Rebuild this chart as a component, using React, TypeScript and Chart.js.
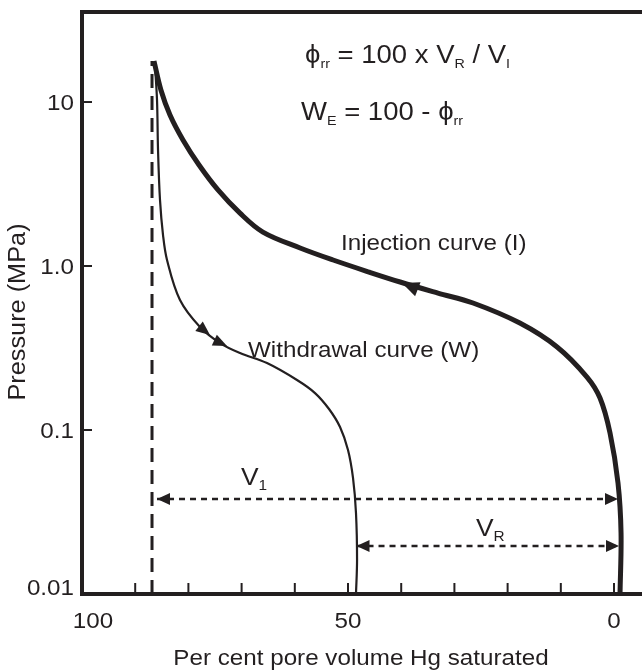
import React, { useEffect, useRef } from "react";
import { Chart, registerables } from "chart.js";

Chart.register(...registerables);

// Mercury injection curve: Hg saturation (% pore volume) against pressure (MPa)
const injectionSaturation = [86.47, 85.15, 83.46, 81.02, 78.0, 74.44, 70.3, 66.0, 59.0, 52.8, 46.05, 40.2, 33.1, 26.5, 17.7, 10.7, 5.08, 2.63, 0.75, -0.75, -1.32, -1.13];
const injectionPressure = [17.8, 11.8, 8.33, 5.87, 4.13, 2.91, 2.1, 1.61, 1.288, 1.088, 0.919, 0.799, 0.684, 0.595, 0.449, 0.321, 0.2104, 0.1567, 0.0959, 0.0475, 0.0236, 0.01];

// Withdrawal curve
const withdrawalSaturation = [86.3, 85.9, 85.71, 85.34, 84.77, 84.02, 81.58, 77.82, 74.06, 70.3, 65.23, 59.59, 56.2, 53.57, 51.5, 50.0, 49.06, 48.5, 48.3, 48.5];
const withdrawalPressure = [17.0, 10.28, 5.1, 2.53, 1.545, 1.088, 0.62, 0.4246, 0.339, 0.2947, 0.256, 0.2018, 0.168, 0.1343, 0.1043, 0.0755, 0.051, 0.0312, 0.0161, 0.01];

// Maximum injected saturation (dashed vertical) and the V_I / V_R spans
const maxSaturation = 86.84;
const maxPressure = 17.8;
const viSpan = [85.9, -0.75];
const viPressure = 0.03795;
const vrSpan = [48.4, -0.94];
const vrPressure = 0.01962;

// Direction arrows along the curves: [tipSat, tipP, tailSat, tailP]
const injectionArrows = [[39.85, 0.788, 36.47, 0.714]];
const withdrawalArrows = [
  [75.94, 0.3796, 78.3, 0.4367],
  [72.74, 0.3252, 75.19, 0.3538],
];

// Axis ranges and ticks
const xMin = -5.26;
const xMax = 100;
const yMin = 0.01;
const yMax = 35.4;
const xMinorTicks = [90, 80, 70, 60, 50, 40, 30, 20, 10, 0];
const xTickValues = [100, 50, 0];
const xTickLabels = ["100", "50", "0"];
const yTickValues = [10, 1, 0.1, 0.01];
const yTickLabels = ["10", "1.0", "0.1", "0.01"];

const INK = "#231f20";
const FONT = '"Liberation Sans", Arial, Helvetica, sans-serif';
const SX = 1.1;

function pts(xs: number[], ys: number[]) {
  return xs.map((x, i) => ({ x, y: ys[i] }));
}

function drawText(
  ctx: CanvasRenderingContext2D,
  s: string,
  x: number,
  y: number,
  size: number,
  align: "left" | "center" | "right" = "left"
) {
  ctx.save();
  ctx.font = `${size}px ${FONT}`;
  const w = ctx.measureText(s).width * SX;
  let x0 = x;
  if (align === "center") x0 = x - w / 2;
  else if (align === "right") x0 = x - w;
  ctx.translate(x0, y);
  ctx.scale(SX, 1);
  ctx.textAlign = "left";
  ctx.textBaseline = "alphabetic";
  ctx.fillStyle = INK;
  ctx.fillText(s, 0, 0);
  ctx.restore();
  return w;
}

// Sequence of [text, isSubscript] pieces drawn left to right
function drawRich(
  ctx: CanvasRenderingContext2D,
  parts: [string, boolean][],
  x: number,
  y: number,
  size: number,
  subSize: number
) {
  let cx = x;
  for (const [s, sub] of parts) {
    cx += drawText(ctx, s, cx, sub ? y + 5 : y, sub ? subSize : size);
  }
}

function arrowHead(
  ctx: CanvasRenderingContext2D,
  tx: number,
  ty: number,
  fx: number,
  fy: number,
  len: number,
  half: number
) {
  const dx = tx - fx;
  const dy = ty - fy;
  const d = Math.hypot(dx, dy) || 1;
  const ux = dx / d;
  const uy = dy / d;
  const bx = tx - ux * len;
  const by = ty - uy * len;
  ctx.beginPath();
  ctx.moveTo(tx, ty);
  ctx.lineTo(bx - uy * half, by + ux * half);
  ctx.lineTo(bx + uy * half, by - ux * half);
  ctx.closePath();
  ctx.fillStyle = INK;
  ctx.fill();
}

const overlay = {
  id: "overlay",
  afterDatasetsDraw(chart: any) {
    const { ctx, chartArea } = chart;
    const xs = chart.scales.x;
    const ys = chart.scales.y;
    const { left, right, top, bottom } = chartArea;
    const px = (v: number) => xs.getPixelForValue(v);
    const py = (v: number) => ys.getPixelForValue(v);

    ctx.save();
    ctx.strokeStyle = INK;
    ctx.lineCap = "butt";

    // frame: left, top and bottom
    ctx.lineWidth = 4;
    ctx.beginPath();
    ctx.moveTo(right, top);
    ctx.lineTo(left, top);
    ctx.lineTo(left, bottom);
    ctx.lineTo(right, bottom);
    ctx.stroke();

    // inward ticks
    ctx.lineWidth = 2;
    for (const v of yTickValues.slice(0, 3)) {
      ctx.beginPath();
      ctx.moveTo(left, py(v));
      ctx.lineTo(left + 10, py(v));
      ctx.stroke();
    }
    for (const v of xMinorTicks) {
      ctx.beginPath();
      ctx.moveTo(px(v), bottom);
      ctx.lineTo(px(v), bottom - 11);
      ctx.stroke();
    }

    // tick labels
    yTickValues.forEach((v, i) => {
      const yy = i === 3 ? py(v) - 7 : py(v);
      drawText(ctx, yTickLabels[i], left - 8, yy + 8, 22, "right");
    });
    xTickValues.forEach((v, i) => {
      const xx = v === 100 ? px(v) + 11 : px(v);
      drawText(ctx, xTickLabels[i], xx, bottom + 34, 22, "center");
    });

    // axis titles
    drawText(ctx, "Per cent pore volume Hg saturated", 361, 665, 22, "center");
    ctx.save();
    ctx.translate(25, 312);
    ctx.rotate(-Math.PI / 2);
    drawText(ctx, "Pressure (MPa)", 0, 0, 23, "center");
    ctx.restore();

    // direction arrows on the curves
    for (const [ts, tp, fs, fp] of injectionArrows) {
      arrowHead(ctx, px(ts), py(tp), px(fs), py(fp), 17, 7.5);
    }
    for (const [ts, tp, fs, fp] of withdrawalArrows) {
      arrowHead(ctx, px(ts), py(tp), px(fs), py(fp), 14, 6);
    }

    // span arrows
    const viY = py(viPressure);
    arrowHead(ctx, px(viSpan[0]), viY, px(viSpan[1]), viY, 13, 6);
    arrowHead(ctx, px(viSpan[1]), viY, px(viSpan[0]), viY, 13, 6);
    const vrY = py(vrPressure);
    arrowHead(ctx, px(vrSpan[0]), vrY, px(vrSpan[1]), vrY, 13, 6);
    arrowHead(ctx, px(vrSpan[1]), vrY, px(vrSpan[0]), vrY, 13, 6);

    // span labels
    drawRich(ctx, [["V", false], ["1", true]], 241, 485, 24, 14);
    drawRich(ctx, [["V", false], ["R", true]], 476, 536, 24, 14);

    // curve labels
    drawText(ctx, "Injection curve (I)", 341, 250, 22);
    drawText(ctx, "Withdrawal curve (W)", 248, 357, 22);

    // relations
    drawRich(
      ctx,
      [["ϕ", false], ["rr", true], [" = 100 x V", false], ["R", true], [" / V", false], ["I", true]],
      305,
      63,
      25,
      13
    );
    drawRich(
      ctx,
      [["W", false], ["E", true], [" = 100 - ϕ", false], ["rr", true]],
      301,
      120,
      25,
      13
    );

    ctx.restore();
  },
};

export default function App() {
  const ref = useRef<HTMLCanvasElement | null>(null);

  useEffect(() => {
    if (!ref.current) return;
    const chart = new Chart(ref.current, {
      type: "line",
      data: {
        datasets: [
          {
            label: "Injection curve (I)",
            data: pts(injectionSaturation, injectionPressure),
            borderColor: INK,
            borderWidth: 5,
            pointRadius: 0,
            tension: 0.35,
            fill: false,
          },
          {
            label: "Withdrawal curve (W)",
            data: pts(withdrawalSaturation, withdrawalPressure),
            borderColor: INK,
            borderWidth: 2.2,
            pointRadius: 0,
            tension: 0.35,
            fill: false,
          },
          {
            label: "Maximum saturation",
            data: pts([maxSaturation, maxSaturation], [yMin, maxPressure]),
            borderColor: INK,
            borderWidth: 3,
            borderDash: [14, 8],
            pointRadius: 0,
            fill: false,
          },
          {
            label: "V1",
            data: pts(viSpan, [viPressure, viPressure]),
            borderColor: INK,
            borderWidth: 2.6,
            borderDash: [6, 5],
            pointRadius: 0,
            fill: false,
          },
          {
            label: "VR",
            data: pts(vrSpan, [vrPressure, vrPressure]),
            borderColor: INK,
            borderWidth: 2.6,
            borderDash: [6, 5],
            pointRadius: 0,
            fill: false,
          },
        ],
      },
      options: {
        animation: false,
        responsive: false,
        devicePixelRatio: 1,
        layout: { padding: { left: 82, top: 12, right: 0, bottom: 77 } },
        plugins: {
          legend: { display: false },
          tooltip: { enabled: false },
          title: { display: false },
        },
        scales: {
          x: { type: "linear", min: xMin, max: xMax, reverse: true, display: false },
          y: { type: "logarithmic", min: yMin, max: yMax, display: false },
        },
      },
      plugins: [overlay],
    });
    return () => chart.destroy();
  }, []);

  return (
    <div style={{ position: "fixed", left: 0, top: 0, width: 642, height: 671, background: "#fff" }}>
      <canvas ref={ref} width={642} height={671} />
    </div>
  );
}
